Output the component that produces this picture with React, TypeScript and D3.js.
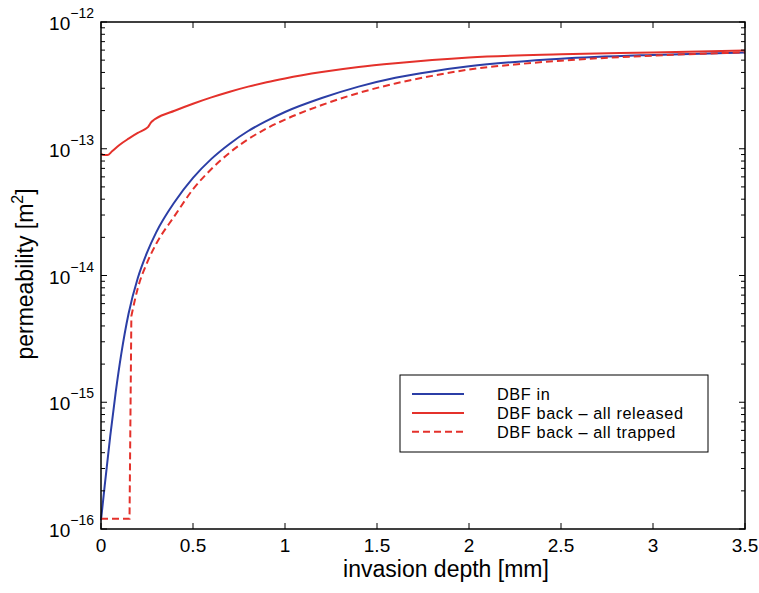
import React from "react";
import * as d3 from "d3";

// ---- data: invasion depth [mm] and log10 of permeability [m^2] ----
const xIn = [0, 0.02, 0.05, 0.08, 0.11, 0.15, 0.2, 0.25, 0.3, 0.4, 0.5, 0.6, 0.7, 0.8, 0.9, 1.0, 1.2, 1.4, 1.6, 1.8, 2.0, 2.25, 2.5, 3.0, 3.5];
const logIn = [-15.93, -15.66, -15.27, -14.92, -14.62, -14.30, -14.02, -13.82, -13.66, -13.42, -13.23, -13.08, -12.96, -12.86, -12.78, -12.71, -12.60, -12.51, -12.44, -12.39, -12.35, -12.315, -12.29, -12.26, -12.24];

const xReleased = [0, 0.015, 0.035, 0.06, 0.1, 0.15, 0.2, 0.24, 0.255, 0.27, 0.285, 0.3, 0.4, 0.5, 0.6, 0.7, 0.8, 0.9, 1.0, 1.2, 1.4, 1.6, 1.8, 2.0, 2.5, 3.0, 3.5];
const logReleased = [-13.04, -13.05, -13.05, -13.02, -12.97, -12.92, -12.875, -12.845, -12.83, -12.795, -12.775, -12.76, -12.70, -12.645, -12.595, -12.55, -12.51, -12.475, -12.445, -12.395, -12.355, -12.325, -12.30, -12.28, -12.255, -12.24, -12.225];

const xTrapped = [0, 0.155, 0.165, 0.2, 0.25, 0.3, 0.4, 0.5, 0.6, 0.7, 0.8, 0.9, 1.0, 1.2, 1.4, 1.6, 1.8, 2.0, 2.25, 2.5, 3.0, 3.5];
const logTrapped = [-15.92, -15.92, -14.32, -14.10, -13.90, -13.75, -13.53, -13.32, -13.16, -13.03, -12.925, -12.84, -12.77, -12.655, -12.56, -12.485, -12.425, -12.375, -12.335, -12.305, -12.265, -12.24];

const xTicks = [0, 0.5, 1, 1.5, 2, 2.5, 3, 3.5];
const xTickLabels = ["0", "0.5", "1", "1.5", "2", "2.5", "3", "3.5"];
const yDecades = [-16, -15, -14, -13, -12];
const legendLabels = ["DBF in", "DBF back \u2013 all released", "DBF back \u2013 all trapped"];

const BLUE = "#2b3ea6";
const RED = "#e4312b";

export default function App() {
  const W = 759, H = 593;
  const left = 101, right = 745, top = 22, bottom = 529;
  const x = d3.scaleLinear().domain([0, 3.5]).range([left, right]);
  const y = d3.scaleLog().domain([1e-16, 1e-12]).range([bottom, top]);

  const smooth = d3
    .line<[number, number]>()
    .x((d) => x(d[0]))
    .y((d) => y(Math.pow(10, d[1])))
    .curve(d3.curveMonotoneX);
  const straight = d3
    .line<[number, number]>()
    .x((d) => x(d[0]))
    .y((d) => y(Math.pow(10, d[1])));

  const mk = (xs: number[], ls: number[]) => xs.map((v, i) => [v, ls[i]] as [number, number]);
  const inPath = smooth(mk(xIn, logIn)) || "";
  const relPath = smooth(mk(xReleased, logReleased)) || "";
  const trapStart = straight(mk(xTrapped.slice(0, 3), logTrapped.slice(0, 3))) || "";
  const trapRest = smooth(mk(xTrapped.slice(2), logTrapped.slice(2))) || "";
  const trapPath = trapStart + trapRest.replace(/^M/, "L");

  const minorTicks: number[] = [];
  for (let e = -16; e < -12; e++) {
    for (let m = 2; m <= 9; m++) minorTicks.push(m * Math.pow(10, e));
  }

  const font = "Liberation Sans, Arial, Helvetica, sans-serif";

  return (
    <svg width={W} height={H} style={{ position: "absolute", left: 0, top: 0, background: "#fff" }} fontFamily={font}>
      <rect x={0} y={0} width={W} height={H} fill="#fff" />
      {/* curves */}
      <g fill="none" strokeWidth={2}>
        <path d={inPath} stroke={BLUE} />
        <path d={relPath} stroke={RED} />
        <path d={trapPath} stroke={RED} strokeDasharray="7,4" />
      </g>
      {/* frame */}
      <rect x={left} y={top} width={right - left} height={bottom - top} fill="none" stroke="#000" strokeWidth={1.5} />
      {/* ticks */}
      <g stroke="#000" strokeWidth={1}>
        {xTicks.map((t, i) => (
          <g key={"xt" + i}>
            <line x1={x(t)} x2={x(t)} y1={bottom} y2={bottom - 6} />
            <line x1={x(t)} x2={x(t)} y1={top} y2={top + 6} />
          </g>
        ))}
        {yDecades.map((e, i) => (
          <g key={"yt" + i}>
            <line x1={left} x2={left + 6} y1={y(Math.pow(10, e))} y2={y(Math.pow(10, e))} />
            <line x1={right} x2={right - 6} y1={y(Math.pow(10, e))} y2={y(Math.pow(10, e))} />
          </g>
        ))}
        {minorTicks.map((v, i) => (
          <g key={"ym" + i}>
            <line x1={left} x2={left + 4} y1={y(v)} y2={y(v)} />
            <line x1={right} x2={right - 4} y1={y(v)} y2={y(v)} />
          </g>
        ))}
      </g>
      {/* x tick labels */}
      <g fontSize={19} textAnchor="middle" fill="#000">
        {xTicks.map((t, i) => (
          <text key={"xl" + i} x={x(t)} y={552}>
            {xTickLabels[i]}
          </text>
        ))}
      </g>
      {/* y tick labels */}
      <g fill="#000" textAnchor="end">
        {yDecades.map((e, i) => (
          <text key={"yl" + i} x={94} y={y(Math.pow(10, e)) + 8} fontSize={19}>
            10
            <tspan fontSize={14} dy={-12}>
              {"\u2212" + String(-e)}
            </tspan>
          </text>
        ))}
      </g>
      {/* axis labels */}
      <text x={446} y={577} fontSize={23} textAnchor="middle" fill="#000">
        invasion depth [mm]
      </text>
      <text transform={`translate(33,274) rotate(-90)`} fontSize={23} textAnchor="middle" fill="#000">
        permeability [m
        <tspan fontSize={16} dy={-10}>2</tspan>
        <tspan dy={10}>]</tspan>
      </text>
      {/* legend */}
      <g>
        <rect x={400} y={375} width={308} height={77} fill="#fff" stroke="#000" strokeWidth={1} />
        {legendLabels.map((lab, i) => {
          const ly = 394 + i * 18.9;
          return (
            <g key={"lg" + i}>
              <line
                x1={412}
                x2={464}
                y1={ly}
                y2={ly}
                stroke={i === 0 ? BLUE : RED}
                strokeWidth={2}
                strokeDasharray={i === 2 ? "7,4" : undefined}
              />
              <text x={497} y={ly + 6} fontSize={16.3} letterSpacing={0.6} fill="#000">
                {lab}
              </text>
            </g>
          );
        })}
      </g>
    </svg>
  );
}
